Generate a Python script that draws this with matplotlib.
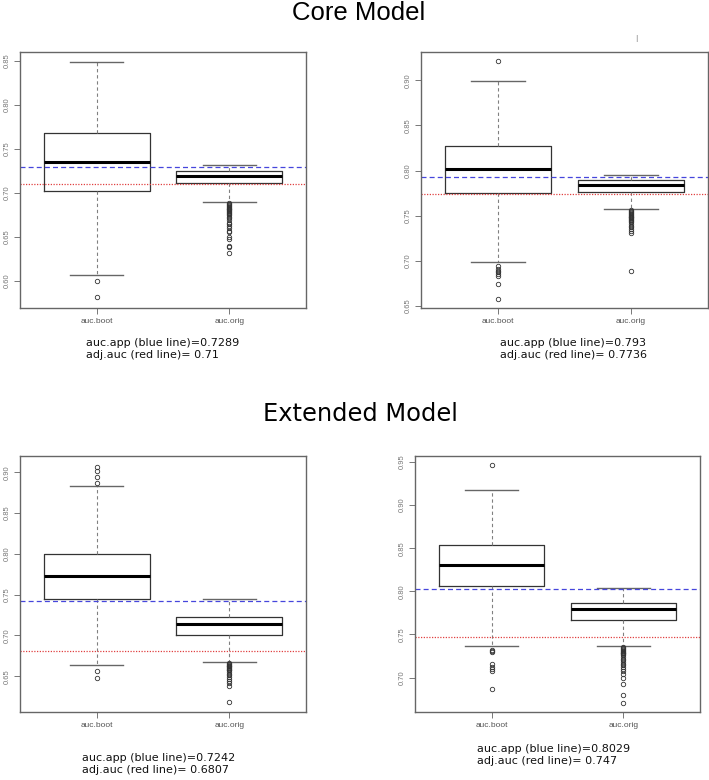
import matplotlib.pyplot as plt

# box statistics: (whislo, q1, med, q3, whishi)
core_a_boot = [0.606, 0.702, 0.735, 0.768, 0.849]
core_a_boot_out = [0.600, 0.581]
core_a_orig = [0.689, 0.711, 0.719, 0.725, 0.731]
core_a_orig_out = [0.688, 0.687, 0.686, 0.685, 0.684, 0.683, 0.682, 0.681, 0.680,
                   0.679, 0.678, 0.677, 0.676, 0.675, 0.673, 0.671, 0.669, 0.666,
                   0.664, 0.662, 0.660, 0.657, 0.655, 0.650, 0.648, 0.640, 0.638, 0.632]

core_b_boot = [0.698, 0.775, 0.802, 0.827, 0.899]
core_b_boot_out = [0.921, 0.694, 0.691, 0.689, 0.687, 0.685, 0.683, 0.674, 0.658]
core_b_orig = [0.757, 0.776, 0.784, 0.789, 0.795]
core_b_orig_out = [0.756, 0.755, 0.754, 0.753, 0.752, 0.751, 0.750, 0.749, 0.748,
                   0.747, 0.746, 0.745, 0.744, 0.743, 0.741, 0.739, 0.737, 0.735,
                   0.733, 0.731, 0.689]

ext_c_boot = [0.664, 0.744, 0.773, 0.800, 0.883]
ext_c_boot_out = [0.907, 0.901, 0.894, 0.887, 0.656, 0.648]
ext_c_orig = [0.667, 0.700, 0.714, 0.722, 0.744]
ext_c_orig_out = [0.666, 0.665, 0.664, 0.663, 0.662, 0.661, 0.660, 0.659, 0.658,
                  0.657, 0.655, 0.653, 0.651, 0.649, 0.647, 0.644, 0.641, 0.638, 0.618]

ext_d_boot = [0.737, 0.806, 0.830, 0.854, 0.918]
ext_d_boot_out = [0.946, 0.732, 0.731, 0.730, 0.716, 0.712, 0.710, 0.708, 0.687]
ext_d_orig = [0.737, 0.767, 0.779, 0.786, 0.804]
ext_d_orig_out = [0.735, 0.734, 0.733, 0.732, 0.731, 0.730, 0.729, 0.728, 0.727,
                  0.726, 0.724, 0.722, 0.720, 0.718, 0.716, 0.714, 0.712, 0.710,
                  0.707, 0.704, 0.700, 0.692, 0.680, 0.671]

group_labels = ["auc.boot", "auc.orig"]

# reference lines (blue = auc.app, red = adj.auc) as drawn
blue_lines = [0.7289, 0.793, 0.742, 0.8029]
red_lines = [0.71, 0.7736, 0.6807, 0.747]
# captions as printed below each panel
captions = [
    "auc.app (blue line)=0.7289\nadj.auc (red line)= 0.71",
    "auc.app (blue line)=0.793\nadj.auc (red line)= 0.7736",
    "auc.app (blue line)=0.7242\nadj.auc (red line)= 0.6807",
    "auc.app (blue line)=0.8029\nadj.auc (red line)= 0.747",
]
y_limits = [(0.569, 0.860), (0.6475, 0.9315), (0.606, 0.920), (0.660, 0.957)]
y_ticks = [
    [0.60, 0.65, 0.70, 0.75, 0.80, 0.85],
    [0.65, 0.70, 0.75, 0.80, 0.85, 0.90],
    [0.65, 0.70, 0.75, 0.80, 0.85, 0.90],
    [0.70, 0.75, 0.80, 0.85, 0.90, 0.95],
]

panels = [
    ((core_a_boot, core_a_boot_out), (core_a_orig, core_a_orig_out)),
    ((core_b_boot, core_b_boot_out), (core_b_orig, core_b_orig_out)),
    ((ext_c_boot, ext_c_boot_out), (ext_c_orig, ext_c_orig_out)),
    ((ext_d_boot, ext_d_boot_out), (ext_d_orig, ext_d_orig_out)),
]

W, H = 709, 780
# axes boxes in pixels: left, top, right, bottom
ax_px = [(20, 52, 306, 308), (421, 52, 708, 308), (20, 456, 306, 712), (415, 456, 700, 712)]
caption_px = [(86, 349), (500, 349), (82, 764), (477, 755)]


def make_stats(vals, fliers, label):
    lo, q1, med, q3, hi = vals
    return dict(whislo=lo, q1=q1, med=med, q3=q3, whishi=hi, fliers=fliers, label=label)


fig = plt.figure(figsize=(W / 100, H / 100), dpi=100)

for i, (boot, orig) in enumerate(panels):
    l, t, r, b = ax_px[i]
    ax = fig.add_axes([l / W, 1 - b / H, (r - l) / W, (b - t) / H])
    stats = [make_stats(boot[0], boot[1], group_labels[0]),
             make_stats(orig[0], orig[1], group_labels[1])]
    ax.bxp(stats, positions=[1, 2], widths=0.8, capwidths=0.4,
           boxprops=dict(color="#333333", lw=0.9),
           medianprops=dict(color="black", lw=2.2),
           whiskerprops=dict(color="#808080", lw=0.8, linestyle=(0, (3, 2.5))),
           capprops=dict(color="#666666", lw=1.0),
           flierprops=dict(marker="o", markersize=3.2, markerfacecolor="none",
                           markeredgecolor="#333333", markeredgewidth=0.6))
    ax.axhline(blue_lines[i], color="#4646dc", lw=0.9, linestyle=(0, (4, 2.5)))
    ax.axhline(red_lines[i], color="#e04040", lw=0.9, linestyle=(0, (1, 1.2)))
    ax.set_xlim(0.42, 2.58)
    ax.set_ylim(*y_limits[i])
    ax.set_yticks(y_ticks[i])
    ax.set_yticklabels(["%.2f" % v for v in y_ticks[i]], rotation=90, va="center",
                       fontsize=5.5, color="#777777", family="Liberation Sans")
    ax.set_xticks([1, 2])
    ax.set_xticklabels(group_labels, fontsize=6, color="#555555", family="Liberation Sans")
    ax.tick_params(length=4, width=0.7, color="#777777", pad=3)
    for s in ax.spines.values():
        s.set_color("#666666")
        s.set_linewidth(1.0)
    cx, cy = caption_px[i]
    fig.text(cx / W, 1 - cy / H, captions[i], fontsize=8, family="DejaVu Sans",
             ha="left", va="center", linespacing=1.25, color="#111111")

fig.text(359 / W, 1 - 13 / H, "Core Model", fontsize=18.5, family="Liberation Sans",
         ha="center", va="center")
fig.text(360 / W, 1 - 414 / H, "Extended Model", fontsize=17.4, family="DejaVu Sans",
         ha="center", va="center")
# small stray mark above the top-right panel
fig.text(636 / W, 1 - 38 / H, "|", fontsize=5, color="#777777", ha="center", va="center")

fig.savefig("out.png", dpi=100, facecolor="white")
